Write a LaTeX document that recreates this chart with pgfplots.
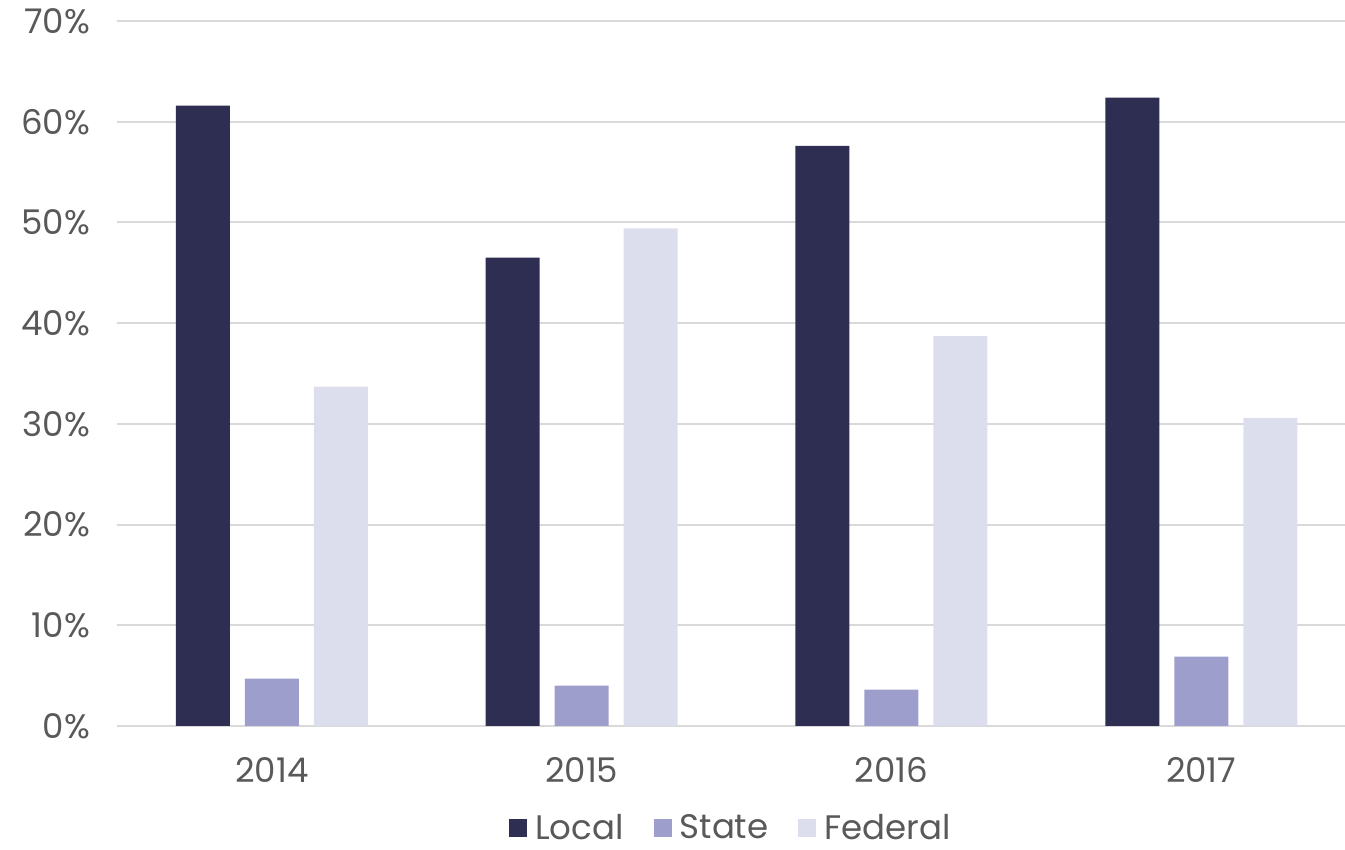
\documentclass[border=0pt]{standalone}
\usepackage{pgfplots}
\pgfplotsset{compat=1.18}
\usepackage{fontspec}
\setmainfont{Poppins}
\definecolor{localc}{HTML}{2D2E52}
\definecolor{statec}{HTML}{9D9ECB}
\definecolor{fedc}{HTML}{DDDEED}
\definecolor{txt}{HTML}{595959}
\definecolor{gridc}{HTML}{D9D9D9}
\begin{document}
\begin{tikzpicture}
\begin{axis}[
  scale only axis,
  width=614pt, height=352.5pt,
  ybar,
  bar width=27pt,
  xmin=-0.5, xmax=3.464,
  ymin=0, ymax=70,
  xtick={0,1,2,3},
  xticklabels={2014,2015,2016,2017},
  ytick={0,10,20,30,40,50,60,70},
  yticklabel={\pgfmathprintnumber{\tick}\%},
  /pgf/number format/assume math mode=true,
  ymajorgrids, xmajorgrids=false,
  grid style={draw=gridc, line width=1pt},
  axis line style={draw=none},
  axis x line*=bottom,
  x axis line style={draw=gridc, line width=1pt},
  major tick length=0pt,
  tick style={draw=none},
  ticklabel style={font=\fontsize{17}{20}\selectfont, text=txt},
  yticklabel style={xshift=-10pt},
  xticklabel style={yshift=-12pt},
  legend style={at={(0.5,-0.145)}, anchor=center, draw=none, legend columns=-1,
    inner sep=0pt, outer sep=0pt,
    nodes={inner sep=1pt},
    font=\fontsize{17}{20}\selectfont, text=txt,
    /tikz/every odd column/.append style={column sep=3pt},
    /tikz/every even column/.append style={column sep=14pt}},
  legend image code/.code={\fill[#1] (0pt,-4.5pt) rectangle (9pt,4.5pt);},
]
\addplot[fill=localc, draw=none, bar shift=-34.5pt] coordinates {(0,61.6) (1,46.5) (2,57.6) (3,62.4)};
\addplot[fill=statec, draw=none, bar shift=0pt] coordinates {(0,4.7) (1,4.0) (2,3.6) (3,6.9)};
\addplot[fill=fedc, draw=none, bar shift=34.5pt] coordinates {(0,33.7) (1,49.4) (2,38.7) (3,30.6)};
\legend{Local,State,Federal}
\end{axis}
\pgfresetboundingbox
\useasboundingbox (-58.5pt,-62pt) rectangle (614pt,363pt);
\end{tikzpicture}
\end{document}
